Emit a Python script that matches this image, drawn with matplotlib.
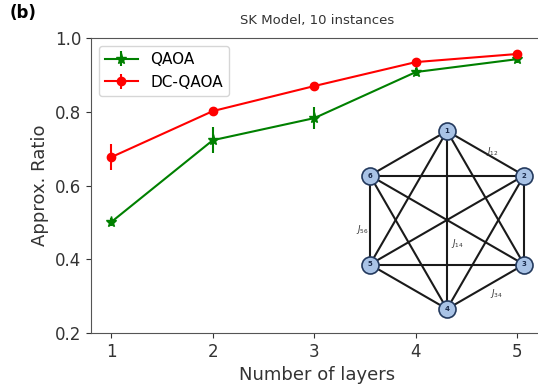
import numpy as np
import matplotlib
matplotlib.use("Agg")
import matplotlib.pyplot as plt

# data
layers = [1, 2, 3, 4, 5]
qaoa = [0.501, 0.723, 0.783, 0.908, 0.943]
qaoa_err = [0.010, 0.035, 0.030, 0.012, 0.010]
dcqaoa = [0.677, 0.802, 0.870, 0.935, 0.957]
dcqaoa_err = [0.035, 0.010, 0.012, 0.008, 0.008]
yticks = [0.2, 0.4, 0.6, 0.8, 1.0]

# inset graph: 6 fully connected nodes on a hexagon
node_labels = ["1", "2", "3", "4", "5", "6"]
coupling_labels = ["$J_{12}$", "$J_{56}$", "$J_{14}$", "$J_{34}$"]
coupling_pos = [(492, 151), (362, 230), (457, 243), (496, 294)]

fig = plt.figure(figsize=(5.38, 3.89), dpi=100)
ax = fig.add_axes([0.169, 0.144, 0.84, 0.758])

ax.errorbar(layers, qaoa, yerr=qaoa_err, color="green", marker="*",
            markersize=8, linewidth=1.5, elinewidth=1.5, label="QAOA")
ax.errorbar(layers, dcqaoa, yerr=dcqaoa_err, color="red", marker="o",
            markersize=6, linewidth=1.5, elinewidth=1.5, label="DC-QAOA")

ax.set_xlim(0.8, 5.25)
ax.set_ylim(0.2, 1.0)
ax.set_xticks(layers)
ax.set_yticks(yticks)
ax.tick_params(labelsize=12, colors="#333333")
for s in ["left", "bottom", "top"]:
    ax.spines[s].set_color("#555555")
ax.spines["right"].set_visible(False)
ax.set_xlabel("Number of layers", fontsize=13, color="#333333")
ax.set_ylabel("Approx. Ratio", fontsize=13, color="#333333")
ax.set_title("SK Model, 10 instances", fontsize=9.5, color="#333333", pad=10)
ax.legend(loc="upper left", fontsize=11, frameon=True, handlelength=2.2)

fig.text(0.018, 0.955, "(b)", fontsize=12, fontweight="bold")

# inset drawn in pixel-like coordinates
ins = fig.add_axes([350 / 538, (389 - 325) / 389, 190 / 538, 210 / 389])
ins.set_xlim(350, 540)
ins.set_ylim(325, 115)
ins.axis("off")
cx, cy, r = 447, 220, 89
ang = np.deg2rad(90 - 60 * np.arange(6))
px = cx + r * np.cos(ang)
py = cy - r * np.sin(ang)
for i in range(6):
    for j in range(i + 1, 6):
        ins.plot([px[i], px[j]], [py[i], py[j]], color="#1a1a1a", linewidth=1.5, zorder=1)
ins.scatter(px, py, s=150, facecolor="#a9c3e6", edgecolor="#243a5e", linewidth=1.2, zorder=3)
for i, lab in enumerate(node_labels):
    ins.text(px[i], py[i], lab, fontsize=5, fontweight="bold", ha="center", va="center",
             color="#1a2a4a", zorder=4)
for lab, (tx, ty) in zip(coupling_labels, coupling_pos):
    ins.text(tx, ty, lab, fontsize=6, ha="center", va="center", color="#333333")

fig.savefig("out.png", dpi=100)
